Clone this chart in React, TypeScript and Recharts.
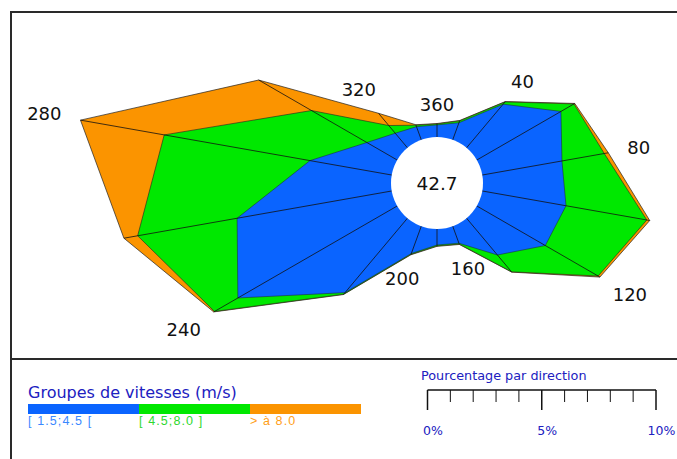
import { RadarChart, Radar, PolarAngleAxis, PolarRadiusAxis } from 'recharts';

// wind directions (degrees), 20° sectors, first one at the top
const directions = [360, 20, 40, 60, 80, 100, 120, 140, 160, 180, 200, 220, 240, 260, 280, 300, 320, 340];

// % of observations per direction and speed group
const lowSpeed = [0.53, 0.79, 2.49, 4.25, 3.54, 3.72, 3.46, 2.1, 0.79, 0.7, 1.27, 4.25, 8.05, 6.87, 3.63, 1.53, 0.83, 0.61];
const midSpeed = [0.04, 0.09, 0.13, 0.66, 1.88, 3.59, 2.67, 0.96, 0.04, 0.04, 0.04, 0.09, 1.18, 4.42, 6.48, 2.8, 0.44, 0.07];
const highSpeed = [0.02, 0.02, 0.02, 0.04, 0.18, 0.13, 0.09, 0.02, 0.02, 0.02, 0.02, 0.02, 0.04, 0.61, 3.72, 2.67, 0.7, 0.02];

const calm = 42.7;

const speedGroups = ['[ 1.5;4.5 [', '[ 4.5;8.0 ]', '> à 8.0'];
const scaleTicks = [0, 1, 2, 3, 4, 5, 6, 7, 8, 9, 10];
const scaleLabels = [0, 5, 10];

const BLUE = '#0a64ff';
const GREEN = '#00e800';
const ORANGE = '#fb9400';
const groupColors = [BLUE, GREEN, ORANGE];
const groupTextColors = ['#3a88ff', '#2ed82e', '#ffa018'];

const CX = 437;
const CY = 183;
const INNER = 46;
const PX_PER_PCT = 22.85;
const MAX_PCT = 16;

const data = directions.map((dir, i) => ({
    dir,
    blue: lowSpeed[i],
    green: lowSpeed[i] + midSpeed[i],
    total: lowSpeed[i] + midSpeed[i] + highSpeed[i],
}));

const RoseOverlay = (props: any) => {
    const { points } = props;
    if (!points || !points.length) return null;
    const cx = points[0].cx ?? CX;
    const cy = points[0].cy ?? CY;
    return (
        <g>
            {points.map((p: any, i: number) => (
                <line key={`s${i}`} x1={cx} y1={cy} x2={p.x} y2={p.y} stroke="#111" strokeWidth={0.8} />
            ))}
            <circle cx={cx} cy={cy} r={INNER} fill="#fff" />
            <text
                x={cx}
                y={cy}
                textAnchor="middle"
                dominantBaseline="central"
                fontFamily="DejaVu Sans"
                fontSize={18.5}
                fill="#111"
            >
                {calm}
            </text>
            {points.map((p: any, i: number) => {
                const dir = p.payload.dir;
                if (dir % 40 !== 0) return null;
                const rad = (p.angle * Math.PI) / 180;
                const ux = Math.cos(rad);
                const uy = -Math.sin(rad);
                const label = String(dir);
                const half = label.length * 6;
                const d = 19 + half * Math.abs(ux);
                return (
                    <text
                        key={`l${i}`}
                        x={p.x + ux * d}
                        y={p.y + uy * d}
                        textAnchor="middle"
                        dominantBaseline="central"
                        fontFamily="DejaVu Sans"
                        fontSize={18}
                        fill="#111"
                    >
                        {label}
                    </text>
                );
            })}
        </g>
    );
};

export default function App() {
    const scaleX0 = 427.5;
    return (
        <div style={{ position: 'absolute', left: 0, top: 0, width: 677, height: 459, background: '#fff' }}>
            <svg width={677} height={459} style={{ position: 'absolute', left: 0, top: 0 }}>
                <line x1={11} y1={12} x2={677} y2={12} stroke="#2a2a2a" strokeWidth={2} />
                <line x1={11} y1={11} x2={11} y2={459} stroke="#2a2a2a" strokeWidth={2} />
                <line x1={11} y1={359} x2={677} y2={359} stroke="#2a2a2a" strokeWidth={2} />

                <text x={28} y={398} fontFamily="DejaVu Sans" fontSize={16} fill="#2020c0">
                    Groupes de vitesses (m/s)
                </text>
                {speedGroups.map((g, i) => (
                    <g key={g}>
                        <rect x={28 + i * 111} y={404} width={111} height={10} fill={groupColors[i]} />
                        <text
                            x={28 + i * 111}
                            y={425}
                            fontFamily="Liberation Sans"
                            fontSize={12.5}
                            letterSpacing={1.1}
                            fill={groupTextColors[i]}
                        >
                            {g}
                        </text>
                    </g>
                ))}

                <text x={421} y={380} fontFamily="DejaVu Sans" fontSize={12.8} fill="#2020c0">
                    Pourcentage par direction
                </text>
                <line
                    x1={scaleX0}
                    y1={390}
                    x2={scaleX0 + 10 * PX_PER_PCT}
                    y2={390}
                    stroke="#111"
                    strokeWidth={1.5}
                />
                {scaleTicks.map((t) => (
                    <line
                        key={t}
                        x1={scaleX0 + t * PX_PER_PCT}
                        y1={390}
                        x2={scaleX0 + t * PX_PER_PCT}
                        y2={t % 5 === 0 ? 410 : 402}
                        stroke="#111"
                        strokeWidth={t % 5 === 0 ? 1.5 : 1}
                    />
                ))}
                {scaleLabels.map((t) => (
                    <text
                        key={t}
                        x={scaleX0 + t * PX_PER_PCT + 5.5}
                        y={435}
                        textAnchor="middle"
                        fontFamily="DejaVu Sans"
                        fontSize={12.5}
                        fill="#2020c0"
                    >
                        {t}%
                    </text>
                ))}
            </svg>

            <div style={{ position: 'absolute', left: 0, top: 0 }}>
                <RadarChart
                    width={677}
                    height={459}
                    data={data}
                    cx={CX}
                    cy={CY}
                    innerRadius={INNER}
                    outerRadius={INNER + MAX_PCT * PX_PER_PCT}
                    margin={{ top: 0, right: 0, bottom: 0, left: 0 }}
                >
                    <PolarAngleAxis dataKey="dir" tick={false} axisLine={false} />
                    <PolarRadiusAxis type="number" domain={[0, MAX_PCT]} tick={false} axisLine={false} />
                    <Radar
                        dataKey="total"
                        fill={ORANGE}
                        fillOpacity={1}
                        stroke="#222"
                        strokeWidth={0.7}
                        isAnimationActive={false}
                    />
                    <Radar
                        dataKey="green"
                        fill={GREEN}
                        fillOpacity={1}
                        stroke="#222"
                        strokeWidth={0.6}
                        isAnimationActive={false}
                    />
                    <Radar
                        dataKey="blue"
                        fill={BLUE}
                        fillOpacity={1}
                        stroke="#222"
                        strokeWidth={0.5}
                        isAnimationActive={false}
                    />
                    <Radar
                        dataKey="total"
                        fill="none"
                        stroke="none"
                        shape={<RoseOverlay />}
                        isAnimationActive={false}
                    />
                </RadarChart>
            </div>
        </div>
    );
}
